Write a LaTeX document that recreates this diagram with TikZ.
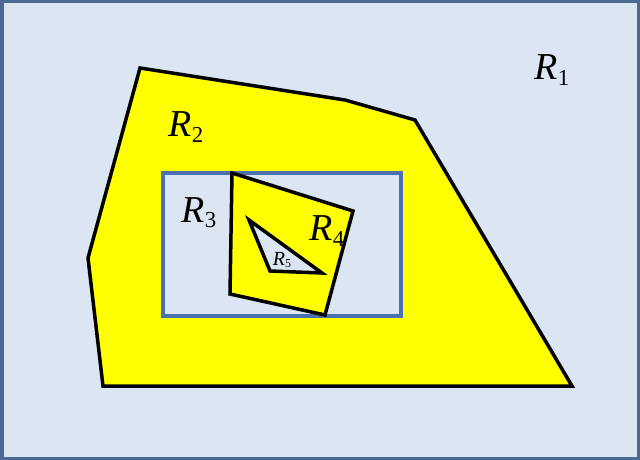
\documentclass[tikz,border=0pt]{standalone}
\usepackage{fontspec}
\setmainfont{Liberation Serif}
\definecolor{bg}{HTML}{DCE6F2}
\definecolor{frame}{HTML}{4A6A94}
\definecolor{rb}{HTML}{4A70B0}
\definecolor{yl}{HTML}{FFFF00}
\newcommand{\rlab}[1]{R\raisebox{-0.3ex}{\upshape\fontsize{0.6em}{0.6em}\selectfont #1}}
\begin{document}
\begin{tikzpicture}[x=1pt,y=-1pt,
  lab/.style={font=\fontsize{38}{40}\selectfont\itshape},
  blk/.style={draw=black,line width=3.5pt,line join=miter}]
\fill[bg] (0,0) rectangle (640,460);
\draw[frame,line width=3.5pt] (1.75,1.75) rectangle (638.25,458.25);
\filldraw[blk,fill=yl] (140,68) -- (345,100) -- (415,120) -- (572,386) -- (103,386) -- (88,258) -- cycle;
\filldraw[draw=rb,line width=3.2pt,fill=bg] (163,173) rectangle (401,316);
\filldraw[blk,fill=yl] (232,173) -- (353,211) -- (325,315) -- (230,294) -- cycle;
\filldraw[blk,fill=bg] (249,220) -- (322,273) -- (270,271) -- cycle;
\node[lab] (r1) at (552,70) {\rlab{1}};
\node[lab] (r2) at (186,127) {\rlab{2}};
\node[lab] (r3) at (199,213) {\rlab{3}};
\node[lab] (r4) at (327,231) {\rlab{4}};
\node[font=\fontsize{20}{22}\selectfont\itshape] (r5) at (282,260) {\rlab{5}};
\end{tikzpicture}
\end{document}
